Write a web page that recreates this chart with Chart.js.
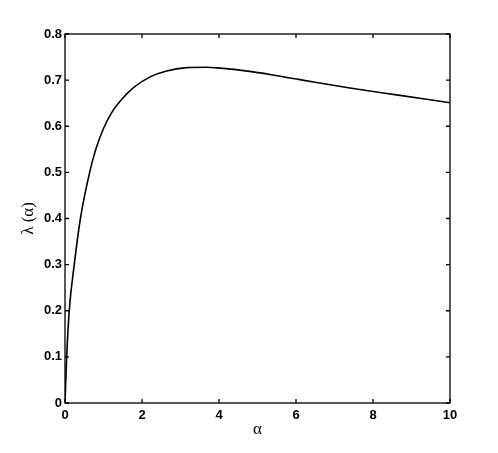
<!DOCTYPE html>
<html>
<head>
<meta charset="utf-8">
<script src="https://cdn.jsdelivr.net/npm/chart.js@4"></script>
<style>
  body { margin: 0; background: #fff; }
  canvas { display: block; }
</style>
</head>
<body>
<canvas id="chartLambda" width="498" height="453"></canvas>
<script>
// valores
const alphaValues  = [0, 0.044, 0.11, 0.24, 0.40, 0.64, 0.80, 1.00, 1.20, 1.43, 1.77, 2.21, 2.64, 3.16, 3.68, 4.03, 4.8, 6.1, 7.4, 8.7, 10];
const lambdaValues = [0, 0.10, 0.20, 0.30, 0.40, 0.50, 0.55, 0.595, 0.628, 0.654, 0.683, 0.707, 0.720, 0.727, 0.728, 0.726, 0.719, 0.701, 0.683, 0.667, 0.651];
const xTickLabels = ['0', '2', '4', '6', '8', '10'];
const yTickLabels = ['0', '0.1', '0.2', '0.3', '0.4', '0.5', '0.6', '0.7', '0.8'];

const points = alphaValues.map((a, i) => ({ x: a, y: lambdaValues[i] }));

// caja y marcas hacia adentro en los cuatro lados
const boxTicks = {
    id: 'boxTicks',
    afterDraw(chart) {
        const { ctx, chartArea: a, scales } = chart;
        const len = 4;
        ctx.save();
        ctx.strokeStyle = '#000';
        ctx.lineWidth = 1.3;
        ctx.beginPath();
        scales.x.ticks.forEach(t => {
            const px = scales.x.getPixelForValue(t.value);
            ctx.moveTo(px, a.bottom); ctx.lineTo(px, a.bottom - len);
            ctx.moveTo(px, a.top); ctx.lineTo(px, a.top + len);
        });
        scales.y.ticks.forEach(t => {
            const py = scales.y.getPixelForValue(t.value);
            ctx.moveTo(a.left, py); ctx.lineTo(a.left + len, py);
            ctx.moveTo(a.right, py); ctx.lineTo(a.right - len, py);
        });
        ctx.stroke();
        ctx.strokeRect(a.left, a.top, a.right - a.left, a.bottom - a.top);
        ctx.restore();
    }
};

const tickFont = { family: "'Liberation Sans', Arial, sans-serif", size: 13, weight: 'bold' };
const titleFont = { family: "'Liberation Serif', serif", size: 17 };

new Chart(document.getElementById('chartLambda'), {
    type: 'scatter',
    data: {
        datasets: [{
            data: points,
            showLine: true,
            borderColor: '#000',
            borderWidth: 1.6,
            pointRadius: 0,
            cubicInterpolationMode: 'monotone',
            fill: false
        }]
    },
    options: {
        responsive: false,
        animation: false,
        layout: { padding: { left: 0, right: 48, top: 34, bottom: 0 } },
        plugins: { legend: { display: false }, tooltip: { enabled: false } },
        scales: {
            x: {
                type: 'linear', min: 0, max: 10,
                afterFit: s => { s.height = 50; },
                ticks: {
                    stepSize: 2, color: '#000', font: tickFont, padding: 5,
                    maxRotation: 0,
                    callback: (v, i) => xTickLabels[i]
                },
                grid: { display: false, drawTicks: false },
                border: { display: false },
                title: { display: true, text: 'α', color: '#000', font: titleFont, padding: { top: 0, bottom: 13 } }
            },
            y: {
                type: 'linear', min: 0, max: 0.8,
                afterFit: s => { s.width = 65; },
                ticks: {
                    stepSize: 0.1, color: '#000', font: tickFont, padding: 3,
                    callback: (v, i) => yTickLabels[i]
                },
                grid: { display: false, drawTicks: false },
                border: { display: false },
                title: { display: true, text: 'λ (α)', color: '#000', font: titleFont, padding: { top: 18, bottom: 0 } }
            }
        }
    },
    plugins: [boxTicks]
});
</script>
</body>
</html>
